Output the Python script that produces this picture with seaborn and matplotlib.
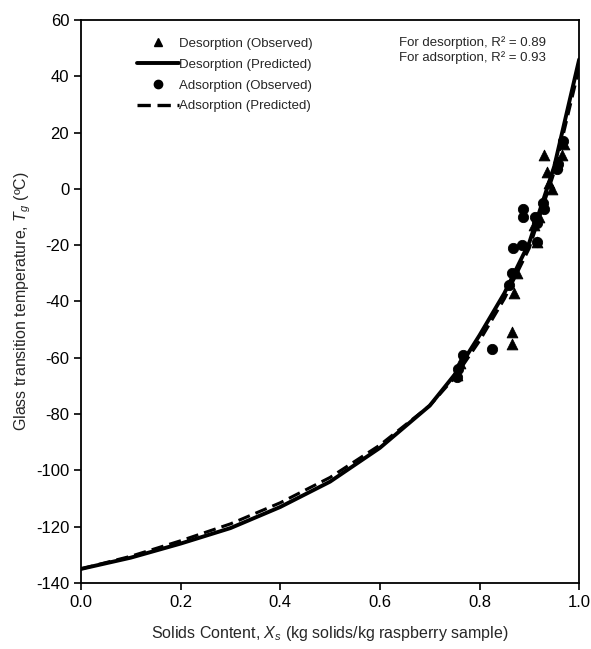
import numpy as np
import pandas as pd
import matplotlib
matplotlib.use("Agg")
import matplotlib.pyplot as plt
import seaborn as sns
from matplotlib.lines import Line2D

# Observed data
des_x = [0.755, 0.760, 0.865, 0.865, 0.870, 0.875, 0.910, 0.915, 0.920, 0.930, 0.935, 0.940, 0.945, 0.955, 0.965, 0.970]
des_t = [-66, -62, -51, -55, -37, -30, -13, -19, -10, 12, 6, 2, 0, 9, 12, 16]
ads_x = [0.755, 0.757, 0.767, 0.825, 0.860, 0.865, 0.867, 0.886, 0.887, 0.888, 0.912, 0.915, 0.916, 0.928, 0.930, 0.955, 0.958, 0.968]
ads_t = [-67, -64, -59, -57, -34, -30, -21, -20, -10, -7, -10, -12, -19, -5, -7, 7, 9, 17]

# Predicted curves
pred_x = [0.0, 0.1, 0.2, 0.3, 0.4, 0.5, 0.6, 0.7, 0.75, 0.8, 0.85, 0.9, 0.95, 1.0]
des_pred = [-135, -131, -126, -120.5, -113, -104, -92, -77, -66, -52, -37, -19, 8, 46]
ads_pred = [-135, -130.5, -125, -119, -111.5, -102.5, -91, -77, -67, -54, -39, -21, 6, 43]

x_ticks = [0.0, 0.2, 0.4, 0.6, 0.8, 1.0]
y_ticks = [-140, -120, -100, -80, -60, -40, -20, 0, 20, 40, 60]

sns.set_style("ticks")
plt.rcParams['font.family'] = ['Liberation Sans', 'DejaVu Sans']
plt.rcParams['mathtext.fontset'] = 'custom'
plt.rcParams['mathtext.rm'] = 'Liberation Sans'
plt.rcParams['mathtext.it'] = 'Liberation Sans:italic'

fig = plt.figure(figsize=(5.91, 6.49), dpi=100)
ax = fig.add_axes([0.137, 0.1017, 0.843, 0.8675])

df_pred = pd.DataFrame({"x": pred_x, "des": des_pred, "ads": ads_pred})
sns.lineplot(data=df_pred, x="x", y="des", ax=ax, color="black", lw=2.8, sort=True)
sns.lineplot(data=df_pred, x="x", y="ads", ax=ax, color="black", lw=2.2, sort=True,
             linestyle=(0, (4, 2)))
sns.scatterplot(x=des_x, y=des_t, ax=ax, marker="^", s=60, color="black", edgecolor="black", zorder=3)
sns.scatterplot(x=ads_x, y=ads_t, ax=ax, marker="o", s=55, color="black", edgecolor="black", zorder=3)

ax.set_xlim(0, 1.0)
ax.set_ylim(-140, 60)
ax.set_xticks(x_ticks)
ax.set_xticklabels([f"{v:.1f}" for v in x_ticks])
ax.set_yticks(y_ticks)
ax.set_yticklabels([str(v) for v in y_ticks])
ax.tick_params(axis="both", labelsize=12, direction="out", length=5, width=1.2, colors="black")
for sp in ax.spines.values():
    sp.set_linewidth(1.3)
    sp.set_color("black")
    sp.set_visible(True)

ax.set_xlabel(r"Solids Content, $X_s$ (kg solids/kg raspberry sample)", fontsize=11.5, labelpad=10)
ax.set_ylabel(r"Glass transition temperature, $T_g$ (ºC)", fontsize=11.5, labelpad=2)

handles = [
    Line2D([], [], marker="^", color="black", linestyle="none", markersize=6),
    Line2D([], [], color="black", lw=2.8),
    Line2D([], [], marker="o", color="black", linestyle="none", markersize=6),
    Line2D([], [], color="black", lw=2.4, linestyle=(0, (4, 2))),
]
labels = ["Desorption (Observed)", "Desorption (Predicted)",
          "Adsorption (Observed)", "Adsorption (Predicted)"]
ax.legend(handles, labels, loc="upper left", bbox_to_anchor=(0.093, 0.985), frameon=False,
          fontsize=9.5, handlelength=3.2, handletextpad=0.05, labelspacing=0.65, borderaxespad=0.3)

ax.text(0.638, 0.959, "For desorption, R² = 0.89",
        transform=ax.transAxes, ha="left", va="center", fontsize=9.5)
ax.text(0.638, 0.933, "For adsorption, R² = 0.93",
        transform=ax.transAxes, ha="left", va="center", fontsize=9.5)

fig.savefig("out.png", dpi=100)
